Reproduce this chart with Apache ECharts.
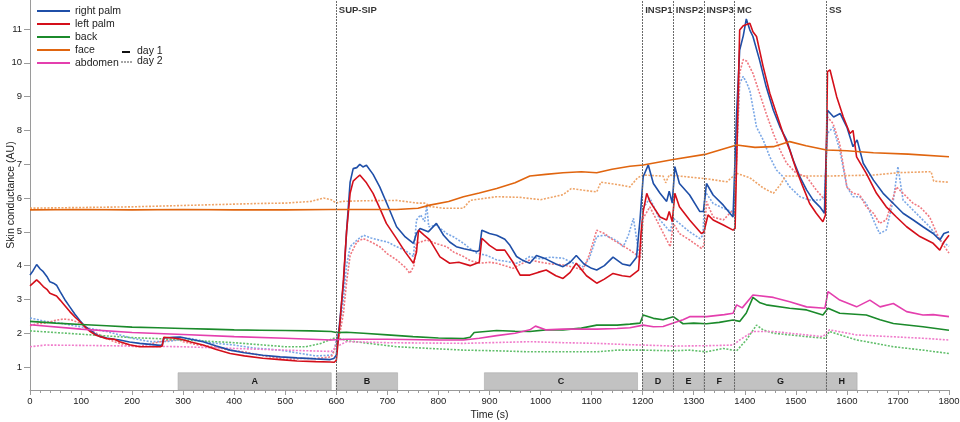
<!DOCTYPE html>
<html><head><meta charset="utf-8">
<script src="https://cdn.jsdelivr.net/npm/echarts@6/dist/echarts.min.js"></script>
<style>html,body{margin:0;padding:0;background:#fff}#c{width:960px;height:422px}</style>
</head><body><div id="c"></div>
<script>
// ---- data: [time (s), skin conductance (AU)] ----
const rightPalmDay1 = [[0,3.72],[6,3.85],[13,4.03],[20,3.9],[26,3.82],[33,3.68],[39,3.52],[46,3.48],[52,3.42],[59,3.23],[68,3.0],[78,2.78],[88,2.56],[98,2.37],[108,2.2],[118,2.09],[128,1.98],[137,1.9],[150,1.86],[165,1.82],[176,1.8],[195,1.74],[215,1.7],[235,1.67],[255,1.64],[259,1.66],[262,1.86],[280,1.88],[294,1.89],[315,1.82],[339,1.75],[365,1.62],[392,1.5],[420,1.42],[456,1.35],[490,1.3],[523,1.27],[560,1.24],[588,1.22],[595,1.25],[600,1.35],[607,2.4],[614,3.48],[620,5.0],[627,6.47],[633,6.87],[640,6.9],[646,7.0],[652,6.92],[659,6.97],[672,6.7],[685,6.33],[700,5.8],[718,5.15],[735,4.85],[751,4.66],[754,4.7],[757,4.95],[764,5.1],[780,5.0],[796,5.25],[810,4.9],[822,4.7],[835,4.56],[850,4.5],[875,4.42],[880,4.45],[885,5.05],[900,4.95],[914,4.9],[930,4.78],[940,4.6],[953,4.27],[966,4.15],[979,4.07],[992,4.3],[1010,4.2],[1030,4.05],[1044,3.97],[1058,4.1],[1070,4.3],[1085,4.05],[1100,3.92],[1110,3.87],[1125,4.0],[1142,4.25],[1160,4.05],[1175,4.0],[1188,4.25],[1195,5.4],[1201,6.63],[1211,6.98],[1221,6.43],[1234,6.14],[1247,5.9],[1252,6.2],[1258,5.85],[1263,6.93],[1272,6.43],[1292,6.09],[1312,5.6],[1319,5.6],[1325,6.43],[1338,6.09],[1358,5.79],[1377,5.44],[1384,8.5],[1390,10.38],[1397,10.8],[1403,11.3],[1410,10.97],[1416,10.78],[1429,10.08],[1442,9.29],[1456,8.6],[1469,8.1],[1482,7.72],[1495,7.12],[1508,6.63],[1521,6.24],[1534,5.94],[1547,5.74],[1556,5.55],[1562,8.6],[1574,8.4],[1587,8.5],[1600,8.1],[1612,7.52],[1620,7.72],[1632,7.03],[1652,6.53],[1671,6.14],[1691,5.84],[1710,5.55],[1730,5.35],[1749,5.15],[1769,4.95],[1782,4.76],[1790,4.95],[1800,5.0]];
const leftPalmDay1 = [[0,3.4],[6,3.48],[13,3.58],[20,3.48],[26,3.38],[33,3.3],[39,3.18],[46,3.14],[52,3.1],[59,2.98],[68,2.82],[78,2.64],[88,2.48],[98,2.34],[108,2.18],[118,2.05],[128,1.95],[137,1.9],[150,1.84],[165,1.82],[176,1.75],[195,1.66],[215,1.6],[235,1.6],[255,1.6],[259,1.62],[262,1.88],[280,1.86],[294,1.83],[315,1.74],[339,1.65],[365,1.52],[392,1.4],[420,1.33],[456,1.26],[490,1.22],[523,1.18],[560,1.16],[588,1.15],[596,1.14],[600,1.2],[607,2.3],[614,3.6],[620,5.0],[627,6.14],[633,6.5],[640,6.6],[646,6.68],[659,6.45],[672,6.14],[685,5.7],[698,5.25],[718,4.8],[735,4.4],[751,4.07],[757,4.4],[761,5.05],[772,4.9],[783,4.76],[803,4.26],[822,4.07],[840,4.1],[862,4.0],[880,4.1],[885,4.81],[900,4.6],[914,4.46],[930,4.46],[946,4.1],[960,3.72],[979,3.72],[995,3.8],[1011,3.87],[1030,3.7],[1044,3.62],[1058,3.8],[1070,4.07],[1090,3.7],[1110,3.48],[1125,3.6],[1142,3.77],[1160,3.7],[1175,3.67],[1192,3.87],[1197,5.0],[1201,5.6],[1208,6.14],[1214,5.9],[1234,5.44],[1247,5.35],[1252,5.6],[1258,5.3],[1263,6.14],[1272,5.74],[1292,5.35],[1315,4.95],[1320,5.0],[1328,5.5],[1338,5.35],[1358,5.2],[1377,5.05],[1381,5.1],[1390,10.97],[1397,11.1],[1410,11.17],[1416,10.92],[1423,10.78],[1436,9.89],[1449,9.1],[1462,8.5],[1475,7.91],[1488,7.42],[1501,6.83],[1514,6.33],[1527,5.84],[1540,5.55],[1553,5.3],[1558,5.5],[1562,9.74],[1567,9.79],[1580,9.0],[1593,8.4],[1606,7.91],[1612,8.0],[1619,7.22],[1638,6.73],[1658,6.14],[1677,5.74],[1697,5.44],[1717,5.15],[1743,4.86],[1769,4.66],[1782,4.46],[1790,4.7],[1800,4.9]];
const backDay1 = [[0,2.35],[50,2.3],[100,2.26],[150,2.22],[200,2.18],[250,2.16],[300,2.14],[350,2.12],[400,2.1],[450,2.09],[500,2.08],[550,2.07],[590,2.05],[600,2.02],[620,2.03],[653,2.0],[700,1.95],[750,1.9],[800,1.86],[849,1.84],[862,1.88],[870,2.02],[914,2.08],[950,2.06],[979,2.05],[1010,2.1],[1044,2.1],[1080,2.15],[1110,2.24],[1150,2.24],[1175,2.27],[1195,2.3],[1201,2.54],[1221,2.44],[1240,2.4],[1260,2.49],[1279,2.28],[1300,2.3],[1325,2.28],[1350,2.32],[1377,2.39],[1390,2.35],[1403,2.6],[1416,3.06],[1430,2.9],[1442,2.84],[1488,2.74],[1521,2.69],[1553,2.54],[1563,2.74],[1586,2.59],[1638,2.54],[1665,2.4],[1691,2.29],[1749,2.19],[1800,2.09]];
const faceDay1 = [[0,5.65],[100,5.66],[200,5.65],[300,5.66],[400,5.65],[500,5.65],[588,5.66],[653,5.66],[718,5.66],[760,5.7],[783,5.79],[820,5.9],[849,6.04],[880,6.15],[914,6.28],[950,6.45],[979,6.65],[1010,6.7],[1044,6.75],[1080,6.78],[1110,6.75],[1140,6.85],[1175,6.94],[1201,6.98],[1260,7.14],[1325,7.3],[1384,7.57],[1420,7.5],[1456,7.52],[1488,7.67],[1520,7.55],[1560,7.42],[1600,7.4],[1652,7.34],[1720,7.3],[1800,7.22]];
const abdomenDay1 = [[0,2.25],[100,2.12],[200,2.02],[300,1.96],[400,1.9],[500,1.85],[590,1.8],[620,1.82],[700,1.82],[800,1.8],[849,1.8],[880,1.85],[914,1.93],[950,2.0],[979,2.1],[990,2.21],[1010,2.1],[1044,2.12],[1080,2.12],[1110,2.12],[1150,2.14],[1175,2.16],[1201,2.24],[1221,2.19],[1240,2.2],[1260,2.3],[1279,2.4],[1292,2.49],[1325,2.49],[1360,2.55],[1377,2.59],[1384,2.84],[1395,2.75],[1416,3.13],[1456,3.06],[1488,2.93],[1521,2.78],[1557,2.74],[1563,3.23],[1586,2.98],[1619,2.78],[1645,2.98],[1665,2.78],[1691,2.88],[1717,2.64],[1749,2.54],[1769,2.55],[1800,2.49]];

const rightPalmDay2 = [[0,2.45],[10,2.42],[30,2.35],[59,2.3],[88,2.22],[118,2.14],[150,2.05],[176,1.95],[200,1.85],[235,1.75],[255,1.75],[270,1.76],[290,1.8],[310,1.85],[330,1.8],[353,1.72],[400,1.65],[440,1.56],[490,1.5],[530,1.4],[560,1.33],[590,1.35],[596,1.5],[600,1.8],[607,2.2],[614,3.0],[620,4.0],[627,4.56],[640,4.75],[653,4.9],[668,4.82],[685,4.75],[700,4.7],[718,4.56],[735,4.45],[751,4.27],[757,5.35],[765,5.5],[773,5.3],[777,5.79],[781,5.15],[796,5.2],[816,4.95],[830,4.85],[849,4.66],[862,4.5],[875,4.37],[895,4.3],[914,4.17],[935,4.12],[953,4.07],[966,4.15],[979,4.27],[1000,4.2],[1020,4.25],[1044,4.22],[1060,4.1],[1083,3.97],[1095,4.2],[1110,4.86],[1125,4.9],[1142,4.8],[1152,4.7],[1162,4.56],[1172,4.9],[1182,5.4],[1190,4.6],[1195,4.27],[1201,5.7],[1214,6.0],[1234,5.35],[1254,5.0],[1260,5.4],[1272,5.25],[1292,5.0],[1312,4.8],[1318,4.9],[1322,6.2],[1338,5.84],[1358,5.7],[1374,5.6],[1380,5.7],[1390,9.39],[1397,9.6],[1404,9.4],[1410,9.17],[1423,8.1],[1436,7.72],[1449,7.22],[1462,6.83],[1475,6.63],[1488,6.33],[1508,6.04],[1527,5.94],[1547,5.94],[1556,6.04],[1562,7.91],[1573,8.1],[1586,7.42],[1600,6.33],[1612,6.04],[1625,6.04],[1638,5.84],[1652,5.35],[1664,4.95],[1677,5.05],[1691,5.94],[1700,6.93],[1710,5.94],[1743,5.44],[1762,5.15],[1782,4.76],[1800,4.57]];
const leftPalmDay2 = [[0,2.22],[13,2.28],[30,2.3],[50,2.38],[65,2.42],[80,2.4],[98,2.3],[118,2.1],[130,2.0],[150,1.85],[165,1.75],[176,1.7],[195,1.62],[210,1.6],[235,1.68],[255,1.75],[275,1.8],[290,1.82],[300,1.75],[330,1.65],[360,1.6],[390,1.5],[420,1.45],[450,1.35],[480,1.28],[500,1.22],[530,1.25],[560,1.25],[590,1.3],[596,1.48],[600,1.7],[607,2.0],[614,2.6],[620,3.5],[627,4.3],[640,4.7],[653,4.8],[668,4.7],[685,4.56],[700,4.35],[718,4.17],[735,3.95],[744,3.77],[752,4.0],[757,4.66],[777,4.76],[796,4.65],[816,4.56],[830,4.4],[849,4.27],[862,4.15],[881,4.07],[900,4.1],[914,4.07],[930,4.0],[946,3.92],[962,4.05],[979,4.17],[1000,4.1],[1020,4.05],[1044,4.02],[1065,3.95],[1083,3.87],[1095,4.3],[1110,5.05],[1125,4.95],[1142,4.76],[1160,4.6],[1175,4.46],[1190,4.3],[1195,4.17],[1201,5.4],[1214,5.74],[1234,5.15],[1254,4.56],[1260,5.25],[1272,4.95],[1292,4.76],[1315,4.51],[1320,4.6],[1325,5.9],[1338,5.44],[1358,5.35],[1374,5.6],[1380,5.5],[1390,9.7],[1397,10.1],[1404,10.05],[1416,9.69],[1429,9.1],[1442,8.5],[1456,7.91],[1469,7.42],[1482,7.03],[1501,6.73],[1521,6.63],[1540,6.24],[1557,5.94],[1562,8.4],[1573,8.2],[1586,7.6],[1600,6.33],[1612,6.14],[1625,6.1],[1638,5.74],[1652,5.55],[1664,5.25],[1677,5.35],[1697,6.33],[1710,6.14],[1730,5.84],[1743,5.74],[1762,5.44],[1782,4.76],[1800,4.37]];
const backDay2 = [[0,2.07],[50,2.02],[100,1.97],[150,1.92],[200,1.87],[250,1.84],[300,1.8],[350,1.76],[400,1.72],[450,1.66],[500,1.6],[540,1.6],[570,1.7],[590,1.82],[600,1.88],[620,1.78],[653,1.72],[718,1.6],[783,1.55],[849,1.5],[914,1.48],[979,1.45],[1044,1.45],[1110,1.45],[1150,1.5],[1175,1.5],[1201,1.5],[1260,1.48],[1292,1.5],[1325,1.45],[1358,1.55],[1384,1.48],[1403,1.8],[1423,2.24],[1436,2.1],[1456,2.0],[1521,1.9],[1557,1.85],[1566,2.05],[1619,1.8],[1638,1.75],[1691,1.6],[1749,1.5],[1800,1.4]];
const faceDay2 = [[0,5.7],[100,5.72],[200,5.74],[300,5.78],[350,5.8],[400,5.82],[450,5.84],[500,5.85],[550,5.9],[575,6.0],[590,5.95],[600,5.85],[610,5.9],[653,5.92],[718,5.93],[760,5.85],[775,5.85],[783,5.75],[810,5.7],[849,5.7],[862,5.93],[914,6.04],[960,6.02],[1000,5.95],[1044,6.1],[1060,6.28],[1110,6.18],[1118,6.47],[1150,6.4],[1175,6.33],[1190,6.6],[1201,6.68],[1240,6.65],[1245,6.45],[1252,6.68],[1325,6.57],[1365,6.48],[1384,6.73],[1410,6.6],[1436,6.3],[1456,6.14],[1470,6.4],[1480,6.65],[1560,6.65],[1652,6.68],[1700,6.75],[1765,6.78],[1770,6.5],[1800,6.47]];
const abdomenDay2 = [[0,1.6],[30,1.65],[100,1.64],[200,1.62],[300,1.6],[400,1.55],[500,1.5],[590,1.46],[600,1.6],[620,1.75],[700,1.72],[849,1.7],[979,1.75],[1044,1.72],[1110,1.7],[1175,1.66],[1201,1.65],[1260,1.62],[1325,1.63],[1377,1.65],[1390,1.8],[1416,2.05],[1456,2.05],[1488,2.0],[1553,1.9],[1566,2.1],[1619,1.95],[1684,1.9],[1749,1.85],[1800,1.8]];

const eventTimes = [600, 1200, 1260, 1320, 1380, 1560];
const eventNames = ['SUP-SIP', 'INSP1', 'INSP2', 'INSP3', 'MC', 'SS'];
const phaseNames = ['A','B','C','D','E','F','G','H'];
const phaseStart = [290, 600, 890, 1200, 1260, 1320, 1380, 1560];
const phaseEnd   = [590, 720, 1190, 1260, 1320, 1380, 1560, 1620];
const yTickValues = [1,2,3,4,5,6,7,8,9,10,11];
const legendNames = ['right palm','left palm','back','face','abdomen'];

// ---- styles ----
const FONT = 'Liberation Sans, Arial, sans-serif';
const colDay1 = ['#1f4fa8', '#d40f1a', '#1b8a2b', '#e0650f', '#e43fae'];
const colDay2 = ['#7aa7e6', '#f07880', '#62bf6c', '#eea468', '#f07ccb'];
const Y_MIN = 0.32, Y_MAX = 11.86, BAR_LO = 0.32, BAR_HI = 0.83, LABEL_Y = 11.56;

const day1 = [rightPalmDay1, leftPalmDay1, backDay1, faceDay1, abdomenDay1];
const day2 = [rightPalmDay2, leftPalmDay2, backDay2, faceDay2, abdomenDay2];

const series = [];
day2.forEach((d, i) => {
  series.push({
    name: legendNames[i] + ' (day 2)', type: 'line', data: d, showSymbol: false, silent: true,
    lineStyle: { color: colDay2[i], width: 1.6, type: [2, 1.5] }, itemStyle: { color: colDay2[i] }, z: 2
  });
});
day1.forEach((d, i) => {
  series.push({
    name: legendNames[i], type: 'line', data: d, showSymbol: false, silent: true,
    lineStyle: { color: colDay1[i], width: 1.6 }, itemStyle: { color: colDay1[i] }, z: 3
  });
});
series.push({
  name: 'events', type: 'line', data: [], silent: true,
  markArea: {
    silent: true,
    itemStyle: { color: '#c2c2c2', borderColor: '#a9a9a9', borderWidth: 0.6 },
    label: { show: true, position: 'inside', fontFamily: FONT, fontSize: 9, fontWeight: 'bold', color: '#1a1a1a' },
    data: phaseNames.map((n, i) => [
      { name: n, xAxis: phaseStart[i], yAxis: BAR_LO },
      { xAxis: phaseEnd[i], yAxis: BAR_HI }
    ])
  },
  markLine: {
    silent: true, symbol: 'none', animation: false,
    lineStyle: { color: '#6a6a6a', type: [2, 1], width: 1 },
    label: { show: false },
    data: eventTimes.map(t => ({ xAxis: t }))
  },
  z: 4
});
series.push({
  name: 'eventLabels', type: 'scatter', silent: true, symbolSize: 1,
  itemStyle: { color: 'rgba(0,0,0,0)' },
  data: eventTimes.map((t, i) => [t, LABEL_Y, eventNames[i]]),
  label: {
    show: true, position: 'right', distance: 2, formatter: p => p.value[2],
    fontFamily: FONT, fontSize: 9.5, fontWeight: 'bold', color: '#000'
  },
  z: 5
});

const chart = echarts.init(document.getElementById('c'), null, { renderer: 'canvas' });
chart.setOption({
  animation: false,
  backgroundColor: '#fff',
  grid: { left: 30, right: 11, top: 0, bottom: 32, containLabel: false, outerBoundsMode: 'none' },
  legend: {
    data: legendNames, orient: 'vertical', left: 37, top: 5, padding: 0,
    itemWidth: 33, itemHeight: 2, itemGap: 1, icon: 'rect',
    textStyle: { fontFamily: FONT, fontSize: 10.5, color: '#222', lineHeight: 12 }
  },
  xAxis: {
    type: 'value', min: 0, max: 1800, interval: 100,
    name: 'Time (s)', nameLocation: 'middle', nameGap: 20, nameMoveOverlap: false,
    nameTextStyle: { fontFamily: FONT, fontSize: 10.5, color: '#222' },
    axisLine: { lineStyle: { color: '#9a9a9a', width: 1 } },
    axisTick: { show: true, length: 5, lineStyle: { color: '#9a9a9a' } },
    minorTick: { show: true, splitNumber: 5, length: 3, lineStyle: { color: '#9a9a9a' } },
    axisLabel: { fontFamily: FONT, fontSize: 9.5, color: '#222', margin: 6, formatter: v => String(v) },
    splitLine: { show: false }
  },
  yAxis: {
    type: 'value', min: Y_MIN, max: Y_MAX,
    name: 'Skin conductance (AU)', nameLocation: 'middle', nameGap: 13, nameRotate: 90, nameMoveOverlap: false,
    nameTextStyle: { fontFamily: FONT, fontSize: 10.5, color: '#222' },
    axisLine: { show: true, lineStyle: { color: '#9a9a9a', width: 1 } },
    axisTick: { show: true, length: 6, customValues: yTickValues, lineStyle: { color: '#9a9a9a' } },
    axisLabel: { fontFamily: FONT, fontSize: 9.5, color: '#222', margin: 8, customValues: yTickValues, formatter: v => String(v) },
    splitLine: { show: false }
  },
  graphic: [
    { type: 'line', shape: { x1: 122, y1: 52, x2: 130, y2: 52 }, style: { stroke: '#111', lineWidth: 2 } },
    { type: 'text', left: 137, top: 46, style: { text: 'day 1', font: '10.5px ' + FONT, fill: '#222' } },
    { type: 'line', shape: { x1: 121, y1: 62, x2: 132, y2: 62 }, style: { stroke: '#888', lineWidth: 1.3, lineDash: [2, 1] } },
    { type: 'text', left: 137, top: 56, style: { text: 'day 2', font: '10.5px ' + FONT, fill: '#222' } }
  ],
  series: series
});
</script></body></html>
